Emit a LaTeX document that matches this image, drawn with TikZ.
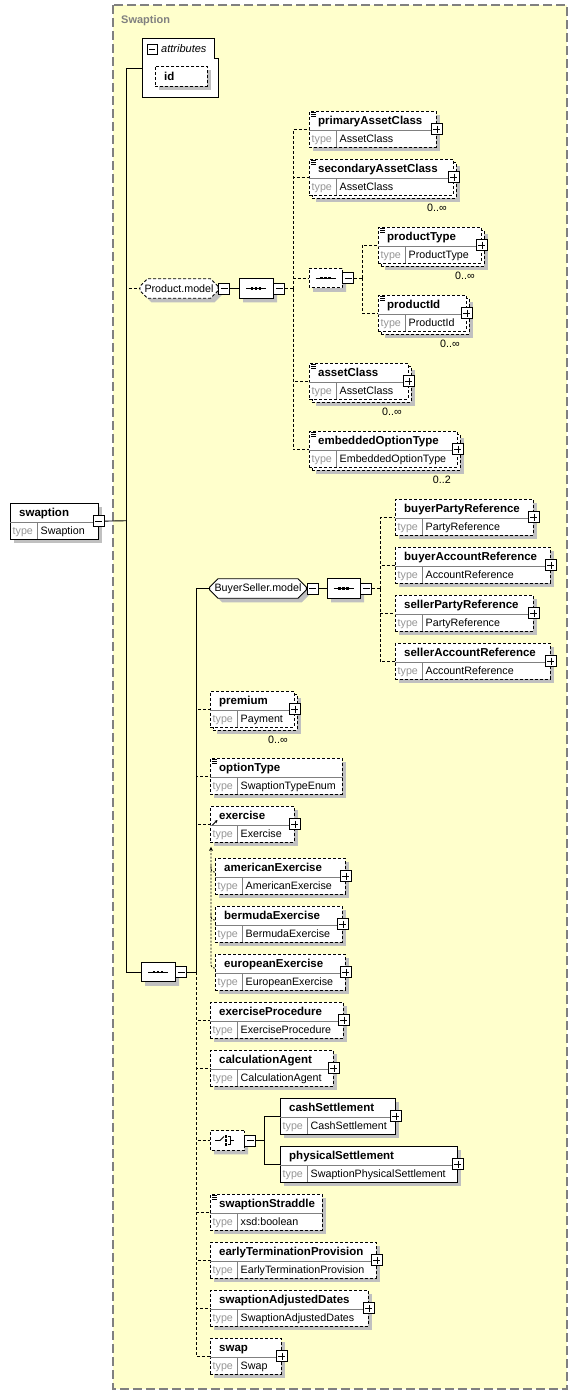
\documentclass[tikz,border=0pt]{standalone}
\usepackage{fontspec}
\setmainfont{Liberation Sans}
\usetikzlibrary{shapes.misc,shadows,arrows.meta}

\definecolor{frameyellow}{RGB}{255,255,204}
\definecolor{framegray}{RGB}{128,128,128}
\definecolor{shadowgray}{RGB}{192,192,192}
\definecolor{typegray}{RGB}{150,150,150}

% name row, type row and texts of one element box
\newcommand{\xsdtext}[3]{%
  \draw[divider] ([yshift=-19pt]#1.north west) -- ([yshift=-19pt]#1.north east);
  \draw[divider] ([xshift=27pt,yshift=-19pt]#1.north west) -- ([xshift=27pt]#1.south west);
  \node[namelbl] (#1-name) at ([xshift=9pt,yshift=-13.5pt]#1.north west) {#2};
  \node[typelbl] (#1-type) at ([xshift=2.5pt,yshift=-31pt]#1.north west) {type};
  \node[vallbl] (#1-val) at ([xshift=30.5pt,yshift=-31pt]#1.north west) {#3};}
% element: name, top left, width, label, type, border
\newcommand{\xsdelem}[6]{%
  \node[elbox, shadowed, #6, minimum width=#3pt, anchor=north west] (#1) at (#2) {};
  \xsdtext{#1}{#4}{#5}}
% element that may occur more than once
\newcommand{\xsdmulti}[7]{%
  \node[elbox, shadowed, #6, minimum width=#3pt, anchor=north west] (#1-back) at ([xshift=3pt,yshift=-3pt]#2) {};
  \node[elbox, #6, minimum width=#3pt, anchor=north west] (#1) at (#2) {};
  \xsdtext{#1}{#4}{#5}
  \node[multlbl] (#1-mult) at ([xshift=-7pt,yshift=-16pt]#1.south east) {#7};}
% simple content icon
\newcommand{\texticon}[1]{%
  \draw[icon] ([xshift=2pt,yshift=-1.2pt]#1.north west) -- ++(5,0)
    ([xshift=2pt,yshift=-3pt]#1.north west) -- ++(5,0)
    ([xshift=2pt,yshift=-4.8pt]#1.north west) -- ++(5,0);}

\begin{document}
\begin{tikzpicture}[
  x=1pt, y=-1pt,
  frame/.style={draw=framegray, fill=frameyellow, line width=1.2pt, dash pattern=on 9pt off 4pt},
  framelbl/.style={anchor=base west, inner sep=0pt, text=framegray, font=\fontsize{11}{13}\selectfont\bfseries},
  attrframe/.style={draw=black, fill=white, line width=1pt},
  attrlbl/.style={anchor=base west, inner sep=0pt, font=\fontsize{11}{13}\selectfont\itshape},
  elbox/.style={draw, fill=white, line width=0.9pt, minimum height=35.5pt, inner sep=0pt},
  optel/.style={dash pattern=on 3pt off 2pt},
  reqel/.style={solid},
  shadowed/.style={drop shadow={shadow xshift=4pt, shadow yshift=-4pt, opacity=1, fill=shadowgray}},
  divider/.style={draw=gray, line width=0.6pt, solid},
  namelbl/.style={anchor=base west, inner sep=0pt, font=\fontsize{11.5}{13}\selectfont\bfseries},
  typelbl/.style={anchor=base west, inner sep=0pt, text=typegray, font=\fontsize{10.7}{13}\selectfont},
  vallbl/.style={anchor=base west, inner sep=0pt, font=\fontsize{10.7}{13}\selectfont},
  multlbl/.style={anchor=base east, inner sep=0pt, font=\fontsize{10.7}{13}\selectfont},
  icon/.style={line width=0.5pt, solid},
  plusbox/.style={draw, fill=white, line width=1pt, minimum size=11pt, inner sep=0pt,
    path picture={\draw[line width=0.8pt] ([xshift=2pt]path picture bounding box.west) -- ([xshift=-2pt]path picture bounding box.east)
      ([yshift=-2pt]path picture bounding box.north) -- ([yshift=2pt]path picture bounding box.south);}},
  minusbox/.style={draw, fill=white, line width=1pt, minimum size=11pt, inner sep=0pt,
    path picture={\draw[line width=0.8pt] ([xshift=2pt]path picture bounding box.west) -- ([xshift=-2pt]path picture bounding box.east);}},
  grp/.style={chamfered rectangle, chamfered rectangle xsep=5pt, draw, fill=white, line width=0.9pt,
    minimum height=19.5pt, inner sep=0pt, shadowed, font=\fontsize{10.7}{13}\selectfont},
  seqsym/.style={path picture={
    \draw[line width=0.8pt, solid, black] ([xshift=-10pt]path picture bounding box.center) -- ([xshift=10pt]path picture bounding box.center);
    \foreach \d in {-4,0,4}
      \fill[black] ([xshift=\d pt]path picture bounding box.center) ++(-1.4,-1.4) rectangle ++(2.8,2.8);}},
  choicesym/.style={path picture={
    \draw[line width=0.8pt, solid, black] ([xshift=-12pt]path picture bounding box.center) -- ([xshift=-7pt]path picture bounding box.center)
      -- ([xshift=-3pt,yshift=4pt]path picture bounding box.center);
    \foreach \d in {-4,0,4}
      \fill[black] ([xshift=-2.2pt,yshift=\d pt]path picture bounding box.center) ++(0,-1.3) rectangle ++(2.6,2.6);
    \draw[line width=0.7pt, solid, black] ([xshift=1pt,yshift=4pt]path picture bounding box.center) -- ([xshift=3.5pt,yshift=4pt]path picture bounding box.center)
      -- ([xshift=3.5pt,yshift=-4pt]path picture bounding box.center) -- ([xshift=1pt,yshift=-4pt]path picture bounding box.center)
      ([xshift=3.5pt]path picture bounding box.center) -- ([xshift=6.5pt]path picture bounding box.center);}},
  conn/.style={line width=0.9pt},
  optconn/.style={line width=0.9pt, dash pattern=on 3pt off 2pt},
  subst/.style={line width=0.8pt, dash pattern=on 2pt off 1.5pt, rounded corners=3pt}
  ]
\useasboundingbox (0,0) rectangle (578,1395);

% complex type frame
\draw[frame] (113,5) rectangle (567,1389);
\node[framelbl] (frametitle) at (121,23) {Swaption};

% attributes
\draw[attrframe] (142,38) -- (214,38) -- (214,58) -- (218,58) -- (218,97) -- (142,97) -- cycle;
\coordinate (attrs) at (142,68);
\node[minusbox, minimum size=10pt] (attrs-minus) at (152,49) {};
\node[attrlbl] (attrs-name) at (161,52) {attributes};
\node[elbox, optel, shadowed, minimum width=52pt, minimum height=20pt, anchor=north west] (id) at (155,66) {};
\node[namelbl] (id-name) at ([xshift=9pt,yshift=-14pt]id.north west) {id};

% root element
\xsdelem{swaption}{10,503}{88}{swaption}{Swaption}{reqel}
\node[minusbox] (swaption-minus) at (swaption.east) {};
\coordinate (trunk) at (126,520.75);

% Product.model
\node[grp, optel, minimum width=78pt] (pmodel) at (179,288.5) {Product.model};
\node[minusbox, anchor=west] (pmodel-minus) at (pmodel.east) {};
\node[grp, seqsym, minimum width=34pt] (pmseq) at (256,288.5) {};
\node[minusbox, anchor=west] (pmseq-minus) at (pmseq.east) {};
\coordinate (pmbus) at (293,288.5);

\xsdelem{primaryAssetClass}{309,111}{127}{primaryAssetClass}{AssetClass}{optel}
\texticon{primaryAssetClass}
\node[plusbox] (primaryAssetClass-plus) at (primaryAssetClass.east) {};
\xsdmulti{secondaryAssetClass}{309,159}{144}{secondaryAssetClass}{AssetClass}{optel}{0..∞}
\texticon{secondaryAssetClass}
\node[plusbox] (secondaryAssetClass-plus) at (secondaryAssetClass.east) {};

\node[grp, optel, seqsym, minimum width=33pt] (ptseq) at (325.5,278) {};
\node[minusbox, anchor=west] (ptseq-minus) at (ptseq.east) {};
\coordinate (ptbus) at (362,278);
\xsdmulti{productType}{378,227}{103}{productType}{ProductType}{optel}{0..∞}
\texticon{productType}
\node[plusbox] (productType-plus) at (productType.east) {};
\xsdmulti{productId}{378,295}{88}{productId}{ProductId}{optel}{0..∞}
\texticon{productId}
\node[plusbox] (productId-plus) at (productId.east) {};

\xsdmulti{assetClass}{309,363}{99}{assetClass}{AssetClass}{optel}{0..∞}
\texticon{assetClass}
\node[plusbox] (assetClass-plus) at (assetClass.east) {};
\xsdmulti{embeddedOptionType}{309,431}{148}{embeddedOptionType}{EmbeddedOptionType}{optel}{0..2}
\texticon{embeddedOptionType}
\node[plusbox] (embeddedOptionType-plus) at (embeddedOptionType.east) {};

% main sequence
\node[grp, seqsym, minimum width=34pt] (mainseq) at (158,972) {};
\node[minusbox, anchor=west] (mainseq-minus) at (mainseq.east) {};
\coordinate (mainbus) at (196,972);

% BuyerSeller.model
\node[grp, reqel, minimum width=94pt] (bsmodel) at (258,588.5) {BuyerSeller.model};
\node[minusbox, anchor=west] (bsmodel-minus) at (bsmodel.east) {};
\node[grp, seqsym, minimum width=33pt] (bsseq) at (343.5,588.5) {};
\node[minusbox, anchor=west] (bsseq-minus) at (bsseq.east) {};
\coordinate (bsbus) at (380,588.5);

\xsdelem{buyerPartyReference}{395,499}{138}{buyerPartyReference}{PartyReference}{optel}
\node[plusbox] (buyerPartyReference-plus) at (buyerPartyReference.east) {};
\xsdelem{buyerAccountReference}{395,547}{155}{buyerAccountReference}{AccountReference}{optel}
\node[plusbox] (buyerAccountReference-plus) at (buyerAccountReference.east) {};
\xsdelem{sellerPartyReference}{395,595}{138}{sellerPartyReference}{PartyReference}{optel}
\node[plusbox] (sellerPartyReference-plus) at (sellerPartyReference.east) {};
\xsdelem{sellerAccountReference}{395,643}{155}{sellerAccountReference}{AccountReference}{optel}
\node[plusbox] (sellerAccountReference-plus) at (sellerAccountReference.east) {};

% option elements
\xsdmulti{premium}{210,691}{84}{premium}{Payment}{optel}{0..∞}
\node[plusbox] (premium-plus) at (premium.east) {};
\xsdelem{optionType}{210,758}{132}{optionType}{SwaptionTypeEnum}{optel}
\texticon{optionType}
\xsdelem{exercise}{210,806}{84}{exercise}{Exercise}{optel}
\node[plusbox] (exercise-plus) at (exercise.east) {};
\draw[-{Stealth[length=3pt,width=3pt]}, line width=0.9pt] ([xshift=2.5pt,yshift=-19pt]exercise.north west) -- ++(5,-5);

\xsdelem{americanExercise}{215,858}{130}{americanExercise}{AmericanExercise}{optel}
\node[plusbox] (americanExercise-plus) at (americanExercise.east) {};
\xsdelem{bermudaExercise}{215,906}{127}{bermudaExercise}{BermudaExercise}{optel}
\node[plusbox] (bermudaExercise-plus) at (bermudaExercise.east) {};
\xsdelem{europeanExercise}{215,954}{130}{europeanExercise}{EuropeanExercise}{optel}
\node[plusbox] (europeanExercise-plus) at (europeanExercise.east) {};

\xsdelem{exerciseProcedure}{210,1002}{133}{exerciseProcedure}{ExerciseProcedure}{optel}
\node[plusbox] (exerciseProcedure-plus) at (exerciseProcedure.east) {};
\xsdelem{calculationAgent}{210,1050}{123}{calculationAgent}{CalculationAgent}{optel}
\node[plusbox] (calculationAgent-plus) at (calculationAgent.east) {};

% settlement choice
\node[grp, optel, choicesym, minimum width=34pt] (settlechoice) at (227,1140.5) {};
\node[minusbox, anchor=west] (settlechoice-minus) at (settlechoice.east) {};
\coordinate (choicebus) at (264,1140.5);
\xsdelem{cashSettlement}{280,1098}{115}{cashSettlement}{CashSettlement}{reqel}
\node[plusbox] (cashSettlement-plus) at (cashSettlement.east) {};
\xsdelem{physicalSettlement}{280,1146}{177}{physicalSettlement}{SwaptionPhysicalSettlement}{reqel}
\node[plusbox] (physicalSettlement-plus) at (physicalSettlement.east) {};

\xsdelem{swaptionStraddle}{210,1194}{112}{swaptionStraddle}{xsd:boolean}{optel}
\texticon{swaptionStraddle}
\xsdelem{earlyTerminationProvision}{210,1242}{166}{earlyTerminationProvision}{EarlyTerminationProvision}{optel}
\node[plusbox] (earlyTerminationProvision-plus) at (earlyTerminationProvision.east) {};
\xsdelem{swaptionAdjustedDates}{210,1290}{158}{swaptionAdjustedDates}{SwaptionAdjustedDates}{optel}
\node[plusbox] (swaptionAdjustedDates-plus) at (swaptionAdjustedDates.east) {};
\xsdelem{swap}{210,1338}{71}{swap}{Swap}{optel}
\node[plusbox] (swap-plus) at (swap.east) {};

% connectors
\draw[conn] (swaption-minus) -- (trunk);
\draw[optconn] (trunk) |- (pmodel.west);
\draw[conn] (trunk) |- (attrs);
\draw[conn] (trunk) |- (mainseq.west);

\draw[conn] (pmodel-minus) -- (pmseq);
\draw[optconn] (pmseq-minus) -- (pmbus);
\foreach \c in {primaryAssetClass, secondaryAssetClass, ptseq, assetClass, embeddedOptionType}
  \draw[optconn] (pmbus) |- (\c.west);
\draw[optconn] (ptseq-minus) -- (ptbus);
\foreach \c in {productType, productId}
  \draw[optconn] (ptbus) |- (\c.west);

\draw[conn] (mainseq-minus) -- (mainbus);
\foreach \c in {premium, optionType, exercise, exerciseProcedure, calculationAgent, settlechoice,
    swaptionStraddle, earlyTerminationProvision, swaptionAdjustedDates, swap}
  \draw[optconn] (mainbus) |- (\c.west);
\draw[conn] (mainbus) |- (bsmodel.west);

\draw[conn] (bsmodel-minus) -- (bsseq);
\draw[optconn] (bsseq-minus) -- (bsbus);
\foreach \c in {buyerPartyReference, buyerAccountReference, sellerPartyReference, sellerAccountReference}
  \draw[optconn] (bsbus) |- (\c.west);

\draw[conn] (settlechoice-minus) -- (choicebus);
\foreach \c in {cashSettlement, physicalSettlement}
  \draw[conn] (choicebus) |- (\c.west);

% substitution group of exercise
\draw[subst, -{Stealth[length=4pt,width=4pt]}] ([yshift=-14pt]europeanExercise.north west) -| ([xshift=1pt,yshift=-4.5pt]exercise.south west);
\foreach \c in {americanExercise, bermudaExercise}
  \draw[subst] ([yshift=-14pt]\c.north west) -| ([xshift=-4pt,yshift=-6pt]\c.north west);

\end{tikzpicture}
\end{document}
